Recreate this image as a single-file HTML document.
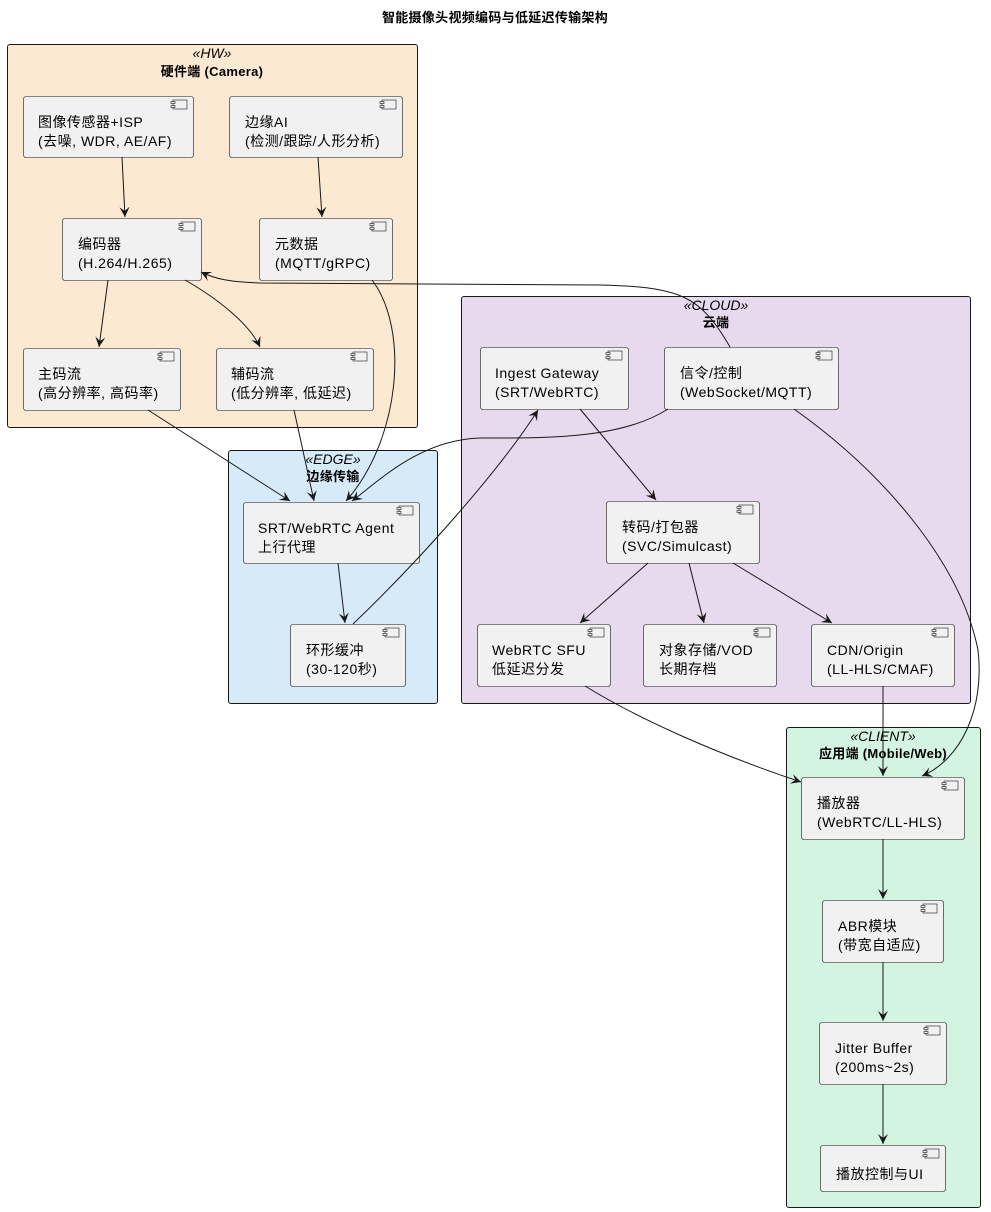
<!DOCTYPE html>
<html><head><meta charset="utf-8"><style>
html,body{margin:0;padding:0;background:#fff;}
svg{display:block;font-family:"Liberation Sans","Noto Sans CJK SC",sans-serif;}
.n{fill:#F1F1F1;stroke:#181818;stroke-width:0.6;}
.t{font-size:14px;fill:#000;letter-spacing:0.5px;}
.e{fill:none;stroke:#181818;stroke-width:1;marker-end:url(#a);}
.st{font-size:14px;font-style:italic;text-anchor:middle;}
.pn{font-size:13px;font-weight:bold;text-anchor:middle;letter-spacing:0.3px;}
</style></head><body>
<svg width="991" height="1212" viewBox="0 0 991 1212">
<defs>
<marker id="a" markerWidth="12" markerHeight="10" refX="10" refY="5" orient="auto" markerUnits="userSpaceOnUse"><path d="M0,0 L10,5 L0,10 L4,5 Z" fill="#181818"/></marker>
<g id="ic"><rect x="0" y="0" width="14" height="9" fill="#F1F1F1" stroke="#181818" stroke-width="0.6"/><rect x="-2" y="1.5" width="4" height="2" fill="#F1F1F1" stroke="#181818" stroke-width="0.6"/><rect x="-2" y="5.5" width="4" height="2" fill="#F1F1F1" stroke="#181818" stroke-width="0.6"/></g>
</defs>
<text x="495" y="22" class="pn">智能摄像头视频编码与低延迟传输架构</text>

<rect x="7.5" y="44.5" width="410" height="383" rx="2.5" fill="#FCE9D1" stroke="#181818"/>
<text x="212" y="58" class="st">«HW»</text><text x="212" y="76" class="pn">硬件端 (Camera)</text>
<rect x="228.5" y="450.5" width="209" height="253" rx="2.5" fill="#D7EAF8" stroke="#181818"/>
<text x="333" y="464" class="st">«EDGE»</text><text x="333" y="481" class="pn">边缘传输</text>
<rect x="461.5" y="296.5" width="509" height="407" rx="2.5" fill="#E7DAEE" stroke="#181818"/>
<text x="716" y="310" class="st">«CLOUD»</text><text x="716" y="327" class="pn">云端</text>
<rect x="786.5" y="727.5" width="194" height="480" rx="2.5" fill="#D4F4E2" stroke="#181818"/>
<text x="883" y="741" class="st">«CLIENT»</text><text x="883" y="758" class="pn">应用端 (Mobile/Web)</text>

<g>
<rect class="n" x="23.5" y="96.5" width="170" height="61" rx="2.5"/><use href="#ic" x="173" y="100"/>
<text class="t" x="38" y="127">图像传感器+ISP</text><text class="t" x="38" y="146">(去噪, WDR, AE/AF)</text>
<rect class="n" x="229.5" y="96.5" width="173" height="61" rx="2.5"/><use href="#ic" x="382" y="100"/>
<text class="t" x="245" y="127">边缘AI</text><text class="t" x="245" y="146">(检测/跟踪/人形分析)</text>
<rect class="n" x="62.5" y="218.5" width="139" height="62" rx="2.5"/><use href="#ic" x="181" y="222"/>
<text class="t" x="78" y="249">编码器</text><text class="t" x="78" y="268">(H.264/H.265)</text>
<rect class="n" x="259.5" y="218.5" width="133" height="62" rx="2.5"/><use href="#ic" x="372" y="222"/>
<text class="t" x="275" y="249">元数据</text><text class="t" x="275" y="268">(MQTT/gRPC)</text>
<rect class="n" x="23.5" y="348.5" width="157" height="62" rx="2.5"/><use href="#ic" x="160" y="352"/>
<text class="t" x="38" y="379">主码流</text><text class="t" x="38" y="398">(高分辨率, 高码率)</text>
<rect class="n" x="216.5" y="348.5" width="157" height="62" rx="2.5"/><use href="#ic" x="353" y="352"/>
<text class="t" x="231" y="379">辅码流</text><text class="t" x="231" y="398">(低分辨率, 低延迟)</text>
<rect class="n" x="243.5" y="502.5" width="176" height="61" rx="2.5"/><use href="#ic" x="399" y="506"/>
<text class="t" x="258" y="533">SRT/WebRTC Agent</text><text class="t" x="258" y="552">上行代理</text>
<rect class="n" x="290.5" y="624.5" width="115" height="62" rx="2.5"/><use href="#ic" x="385" y="628"/>
<text class="t" x="306" y="655">环形缓冲</text><text class="t" x="306" y="674">(30-120秒)</text>
<rect class="n" x="480.5" y="347.5" width="148" height="62" rx="2.5"/><use href="#ic" x="608" y="351"/>
<text class="t" x="495" y="378">Ingest Gateway</text><text class="t" x="495" y="397">(SRT/WebRTC)</text>
<rect class="n" x="664.5" y="347.5" width="174" height="62" rx="2.5"/><use href="#ic" x="818" y="351"/>
<text class="t" x="680" y="378">信令/控制</text><text class="t" x="680" y="397">(WebSocket/MQTT)</text>
<rect class="n" x="606.5" y="501.5" width="153" height="62" rx="2.5"/><use href="#ic" x="739" y="505"/>
<text class="t" x="622" y="532">转码/打包器</text><text class="t" x="622" y="551">(SVC/Simulcast)</text>
<rect class="n" x="477.5" y="624.5" width="133" height="62" rx="2.5"/><use href="#ic" x="590" y="628"/>
<text class="t" x="492" y="655">WebRTC SFU</text><text class="t" x="492" y="674">低延迟分发</text>
<rect class="n" x="643.5" y="624.5" width="133" height="62" rx="2.5"/><use href="#ic" x="756" y="628"/>
<text class="t" x="659" y="655">对象存储/VOD</text><text class="t" x="659" y="674">长期存档</text>
<rect class="n" x="811.5" y="624.5" width="143" height="62" rx="2.5"/><use href="#ic" x="934" y="628"/>
<text class="t" x="827" y="655">CDN/Origin</text><text class="t" x="827" y="674">(LL-HLS/CMAF)</text>
<rect class="n" x="801.5" y="777.5" width="163" height="62" rx="2.5"/><use href="#ic" x="944" y="781"/>
<text class="t" x="817" y="808">播放器</text><text class="t" x="817" y="827">(WebRTC/LL-HLS)</text>
<rect class="n" x="822.5" y="900.5" width="121" height="62" rx="2.5"/><use href="#ic" x="923" y="904"/>
<text class="t" x="838" y="931">ABR模块</text><text class="t" x="838" y="950">(带宽自适应)</text>
<rect class="n" x="819.5" y="1022.5" width="127" height="62" rx="2.5"/><use href="#ic" x="926" y="1026"/>
<text class="t" x="835" y="1053">Jitter Buffer</text><text class="t" x="835" y="1072">(200ms~2s)</text>
<rect class="n" x="820.5" y="1145.5" width="125" height="46" rx="2.5"/><use href="#ic" x="925" y="1149"/>
<text class="t" x="836" y="1179">播放控制与UI</text>
</g>

<path class="e" d="M122,157 L125,217"/>
<path class="e" d="M318,157 L322,217"/>
<path class="e" d="M108,280 L99,347"/>
<path class="e" d="M185,280 C220,300 250,325 260,347"/>
<path class="e" d="M372,280 C410,330 400,440 346,501"/>
<path class="e" d="M730,347 C700,295 680,287 600,285 L260,283 C230,282 215,279 201,272"/>
<path class="e" d="M148,410 L290,501"/>
<path class="e" d="M294,410 L314,501"/>
<path class="e" d="M668,409 C620,440 540,438 480,438 C420,440 380,480 352,501"/>
<path class="e" d="M338,563 L345,623"/>
<path class="e" d="M353,624 C420,560 500,470 538,410"/>
<path class="e" d="M580,409 L656,500"/>
<path class="e" d="M794,409 C880,470 960,560 978,650 C985,710 960,760 922,776"/>
<path class="e" d="M648,563 L580,623"/>
<path class="e" d="M689,563 L704,623"/>
<path class="e" d="M733,563 L832,623"/>
<path class="e" d="M585,686 C640,720 720,755 801,782"/>
<path class="e" d="M883,686 L883,776"/>
<path class="e" d="M883,839 L883,899"/>
<path class="e" d="M883,962 L883,1021"/>
<path class="e" d="M883,1084 L883,1144"/>
</svg>
</body></html>
